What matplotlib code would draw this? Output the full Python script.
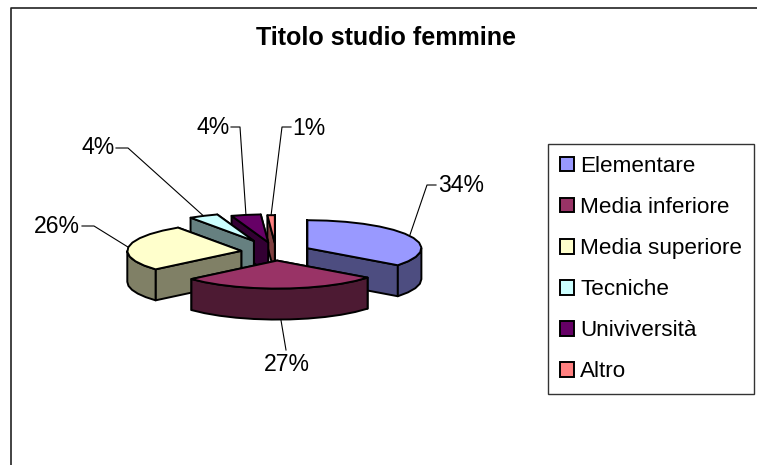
"""Titolo studio femmine - torta 3D esplosa stile Excel"""
import numpy as np
import matplotlib
matplotlib.use('Agg')
import matplotlib.pyplot as plt
from matplotlib.patches import Polygon, Patch

plt.rcParams['font.family'] = ['Liberation Sans', 'DejaVu Sans']

categories = ['Elementare', 'Media inferiore', 'Media superiore', 'Tecniche', 'Univiversità', 'Altro']
values = [34, 27, 26, 4, 4, 1]
top_colors = ['#9999FF', '#993366', '#FFFFCC', '#CCFFFF', '#660066', '#FF8080']
side_colors = ['#4D4D80', '#4D1A33', '#808066', '#668080', '#330033', '#804040']

# layout, in pixels of the 757x465 picture
cx, cy = 276, 252
rx, ry = 114, 28
depth = 31
explode = [35, 35, 35, 50, 40, 36]
draw_order = [5, 4, 3, 0, 2, 1]
# label centre and elbow of each leader line
label_pos = [(461, 185), (287, 364), (57, 226), (98, 147), (213, 127), (309, 128)]
elbow_pos = [(427, 185), (286, 350), (94, 226), (128, 148), (240, 127), (282, 127)]
edge_lw = 1.4

fig = plt.figure(figsize=(7.57, 4.65), dpi=100)
ax = fig.add_axes([0, 0, 1, 1])
ax.set_xlim(0, 757)
ax.set_ylim(465, 0)
ax.axis('off')

# chart frame, right and bottom sides fall outside the picture
ax.plot([11, 11, 770], [480, 8, 8], color='#222222', lw=1.2)
ax.text(385.5, 38, 'Titolo studio femmine', ha='center', va='center', fontsize=18.1, fontweight='bold')


def rim(a, b, ox, oy):
    n = max(2, int(abs(b - a) / 10) + 2)
    th = np.radians(np.linspace(a, b, n))
    return np.column_stack([ox + rx * np.sin(th), oy - ry * np.cos(th)])


def extrude(pts):
    low = pts[::-1] + [0, depth]
    return np.vstack([pts, low])


angles = np.concatenate([[0], np.cumsum(values) / np.sum(values) * 360])
wedges = []
for i in range(len(values)):
    a, b = angles[i], angles[i + 1]
    mid = np.radians((a + b) / 2)
    ox = cx + explode[i] * np.sin(mid)
    oy = cy - explode[i] * np.cos(mid) * ry / rx
    wedges.append((a, b, ox, oy))

for i in draw_order:
    a, b, ox, oy = wedges[i]
    arc = rim(a, b, ox, oy)
    apex = np.array([[ox, oy]])
    faces = [np.vstack([apex, arc[:1]]), np.vstack([apex, arc[-1:]])]
    lo, hi = max(a, 90), min(b, 270)
    if hi > lo:
        faces.append(rim(lo, hi, ox, oy))
    faces = sorted((extrude(f) for f in faces), key=lambda f: f[:, 1].mean())
    for f in faces:
        ax.add_patch(Polygon(f, closed=True, fc=side_colors[i], ec='black', lw=edge_lw, joinstyle='round'))
    ax.add_patch(Polygon(np.vstack([apex, arc]), closed=True, fc=top_colors[i], ec='black', lw=edge_lw, joinstyle='round'))

# leader lines and percentages
for i, v in enumerate(values):
    a, b, ox, oy = wedges[i]
    mid = np.radians((a + b) / 2)
    px = ox + rx * np.sin(mid)
    py = oy - ry * np.cos(mid)
    if 90 < (a + b) / 2 < 270 and py > oy + ry * 0.9:
        py += depth
    lx, ly = label_pos[i]
    ex, ey = elbow_pos[i]
    half = 25 if v >= 10 else 18
    if i == 1:
        ax.plot([px, ex], [py, ey], color='black', lw=0.8)
    else:
        end = lx - half if lx > ex else lx + half
        ax.plot([px, ex, end], [py, ey, ey], color='black', lw=0.8)
    ax.text(lx, ly, f'{v}%', ha='center', va='center', fontsize=16.6)

handles = [Patch(fc=c, ec='black', lw=edge_lw) for c in top_colors]
leg = ax.legend(handles, categories, loc='upper left', bbox_to_anchor=(548 / 757, 1 - 144 / 465),
                fontsize=16.2, frameon=True, fancybox=False, edgecolor='#333333', framealpha=1,
                borderaxespad=0, handlelength=0.64, handleheight=0.64, handletextpad=0.26,
                labelspacing=0.89, borderpad=0.53)
leg.get_frame().set_linewidth(1.0)

plt.savefig('out.png', dpi=100)
